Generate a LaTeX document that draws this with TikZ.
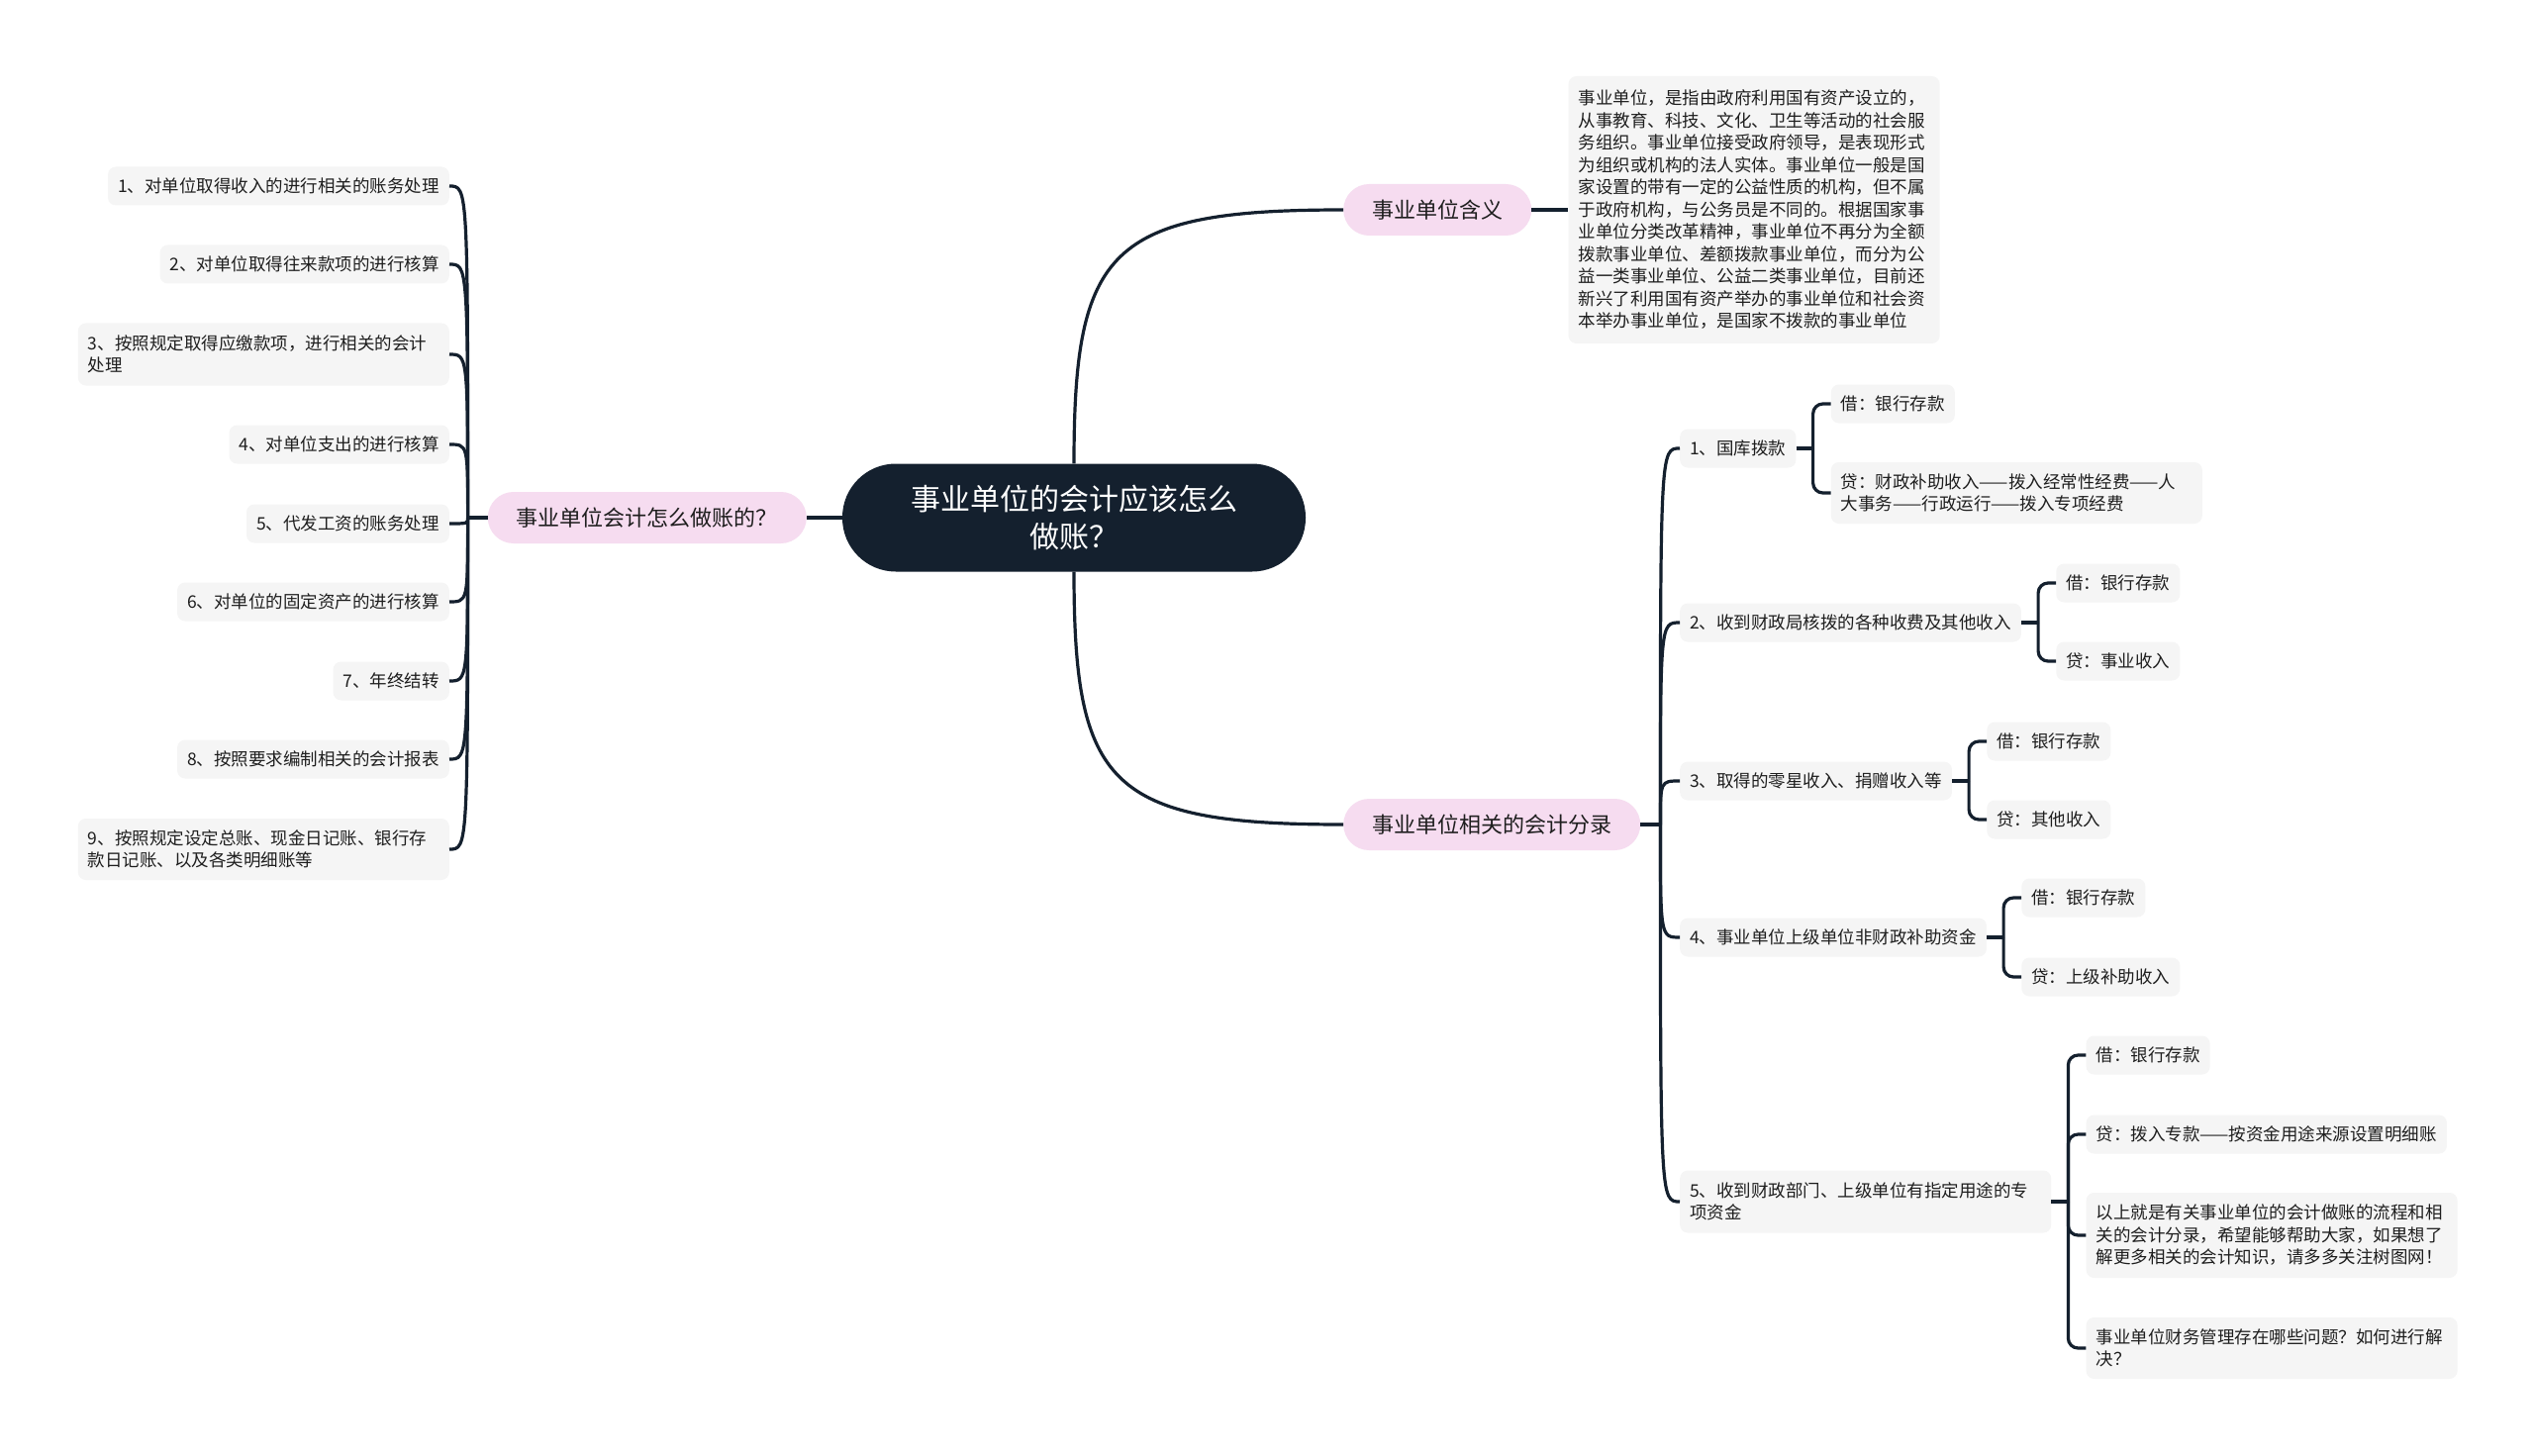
\documentclass[tikz,border=0pt]{standalone}
\usepackage{fontspec}
\setmainfont{Noto Sans CJK SC}
\usetikzlibrary{calc}
\definecolor{navy}{RGB}{20,32,46}
\definecolor{pinkfill}{RGB}{246,220,240}
\definecolor{leaffill}{RGB}{245,245,245}
\definecolor{leaftext}{RGB}{30,30,30}
\begin{document}
\begin{tikzpicture}[x=1pt,y=-1pt,
  rootnode/.style={fill=navy, text=white, rounded corners=54pt, minimum width=468pt, minimum height=109pt, align=center, font=\fontsize{30}{38}\selectfont, inner sep=0pt},
  branch/.style={fill=pinkfill, rounded corners=26pt, minimum height=52pt, inner xsep=29pt, inner ysep=0pt, font=\fontsize{22}{28}\selectfont, text=leaftext},
  leaf/.style={fill=leaffill, rounded corners=8pt, minimum height=39pt, inner xsep=10pt, inner ysep=0pt, font=\fontsize{17.5}{22.5}\selectfont, text=leaftext},
  multi/.style={leaf, text width=355pt, align=left},
  conn/.style={draw=navy, line width=3.2pt},
  bracket/.style={conn, rounded corners=10pt}
]
\fill[white] (0,0) rectangle (2560,1471);
\useasboundingbox (0,0) rectangle (2560,1471);

% root and branches
\node[rootnode] (root) at (1085,523) {事业单位的会计应该怎么\\做账？};
\node[branch, anchor=east] (L) at (815,523) {事业单位会计怎么做账的？};
\node[branch, anchor=west] (R1) at (1357,212) {事业单位含义};
\node[branch, anchor=west] (R2) at (1357,833) {事业单位相关的会计分录};

\draw[conn] (root.west) -- (L.east);
\draw[conn] (root.north) .. controls ($(root.north |- R1.west)+(0,40)$) and ($(root.north |- R1.west)+(35,0)$) .. (R1.west);
\draw[conn] (root.south) .. controls ($(root.south |- R2.west)+(0,-40)$) and ($(root.south |- R2.west)+(35,0)$) .. (R2.west);

% definition
\node[multi, anchor=west, minimum height=270pt] (def) at ([xshift=37pt]R1.east) {事业单位，是指由政府利用国有资产设立的，\\从事教育、科技、文化、卫生等活动的社会服\\务组织。事业单位接受政府领导，是表现形式\\为组织或机构的法人实体。事业单位一般是国\\家设置的带有一定的公益性质的机构，但不属\\于政府机构，与公务员是不同的。根据国家事\\业单位分类改革精神，事业单位不再分为全额\\拨款事业单位、差额拨款事业单位，而分为公\\益一类事业单位、公益二类事业单位，目前还\\新兴了利用国有资产举办的事业单位和社会资\\本举办事业单位，是国家不拨款的事业单位};
\draw[conn] (R1.east) -- (def.west);

% left items
\node[leaf, anchor=east] (l1) at (454,188) {1、对单位取得收入的进行相关的账务处理};
\node[leaf, anchor=east] (l2) at (454,267) {2、对单位取得往来款项的进行核算};
\node[multi, anchor=east, minimum height=63pt] (l3) at (454,358) {3、按照规定取得应缴款项，进行相关的会计\\处理};
\node[leaf, anchor=east] (l4) at (454,449) {4、对单位支出的进行核算};
\node[leaf, anchor=east] (l5) at (454,529) {5、代发工资的账务处理};
\node[leaf, anchor=east] (l6) at (454,608) {6、对单位的固定资产的进行核算};
\node[leaf, anchor=east] (l7) at (454,688) {7、年终结转};
\node[leaf, anchor=east] (l8) at (454,767) {8、按照要求编制相关的会计报表};
\node[multi, anchor=east, minimum height=62pt] (l9) at (454,858) {9、按照规定设定总账、现金日记账、银行存\\款日记账、以及各类明细账等};

\draw[conn] (L.west) -- ++(-20,0) coordinate (jl);
\foreach \n in {l1,l2,l3,l4,l5,l6,l7,l8,l9}
  \draw[conn] (jl) .. controls (jl |- \n.east) .. (\n.east);

% right level 1
\node[leaf, anchor=west] (c1) at (1697,453) {1、国库拨款};
\node[leaf, anchor=west] (c2) at (1697,629) {2、收到财政局核拨的各种收费及其他收入};
\node[leaf, anchor=west] (c3) at (1697,789) {3、取得的零星收入、捐赠收入等};
\node[leaf, anchor=west] (c4) at (1697,947) {4、事业单位上级单位非财政补助资金};
\node[multi, anchor=west, minimum height=63pt] (c5) at (1697,1214) {5、收到财政部门、上级单位有指定用途的专\\项资金};

\draw[conn] (R2.east) -- ++(20,0) coordinate (jr);
\foreach \n in {c1,c2,c3,c4,c5}
  \draw[conn] (jr) .. controls (jr |- \n.west) .. (\n.west);

% right level 2
\node[leaf, anchor=west] (c1a) at ([xshift=35pt,yshift=45pt]c1.east) {借：银行存款};
\node[multi, anchor=west, minimum height=62pt] (c1b) at ([xshift=35pt,yshift=-45pt]c1.east) {贷：财政补助收入——拨入经常性经费——人\\大事务——行政运行——拨入专项经费};
\node[leaf, anchor=west] (c2a) at ([xshift=35pt,yshift=40pt]c2.east) {借：银行存款};
\node[leaf, anchor=west] (c2b) at ([xshift=35pt,yshift=-39pt]c2.east) {贷：事业收入};
\node[leaf, anchor=west] (c3a) at ([xshift=35pt,yshift=40pt]c3.east) {借：银行存款};
\node[leaf, anchor=west] (c3b) at ([xshift=35pt,yshift=-39pt]c3.east) {贷：其他收入};
\node[leaf, anchor=west] (c4a) at ([xshift=35pt,yshift=40pt]c4.east) {借：银行存款};
\node[leaf, anchor=west] (c4b) at ([xshift=35pt,yshift=-40pt]c4.east) {贷：上级补助收入};
\node[leaf, anchor=west] (c5a) at ([xshift=35pt,yshift=148pt]c5.east) {借：银行存款};
\node[leaf, anchor=west] (c5b) at ([xshift=35pt,yshift=68pt]c5.east) {贷：拨入专款——按资金用途来源设置明细账};
\node[multi, anchor=west, minimum height=86pt] (c5c) at ([xshift=35pt,yshift=-34pt]c5.east) {以上就是有关事业单位的会计做账的流程和相\\关的会计分录，希望能够帮助大家，如果想了\\解更多相关的会计知识，请多多关注树图网！};
\node[multi, anchor=west, minimum height=62pt] (c5d) at ([xshift=35pt,yshift=-148pt]c5.east) {事业单位财务管理存在哪些问题？如何进行解\\决？};

\draw[conn] (c1.east) -- ++(17,0) coordinate (b1);
\draw[bracket] (b1) |- (c1a.west);
\draw[bracket] (b1) |- (c1b.west);
\draw[conn] (c2.east) -- ++(17,0) coordinate (b2);
\draw[bracket] (b2) |- (c2a.west);
\draw[bracket] (b2) |- (c2b.west);
\draw[conn] (c3.east) -- ++(17,0) coordinate (b3);
\draw[bracket] (b3) |- (c3a.west);
\draw[bracket] (b3) |- (c3b.west);
\draw[conn] (c4.east) -- ++(17,0) coordinate (b4);
\draw[bracket] (b4) |- (c4a.west);
\draw[bracket] (b4) |- (c4b.west);
\draw[conn] (c5.east) -- ++(17,0) coordinate (b5);
\draw[bracket] (b5) |- (c5a.west);
\draw[bracket] (b5) |- (c5b.west);
\draw[bracket] (b5) |- (c5c.west);
\draw[bracket] (b5) |- (c5d.west);
\end{tikzpicture}
\end{document}
